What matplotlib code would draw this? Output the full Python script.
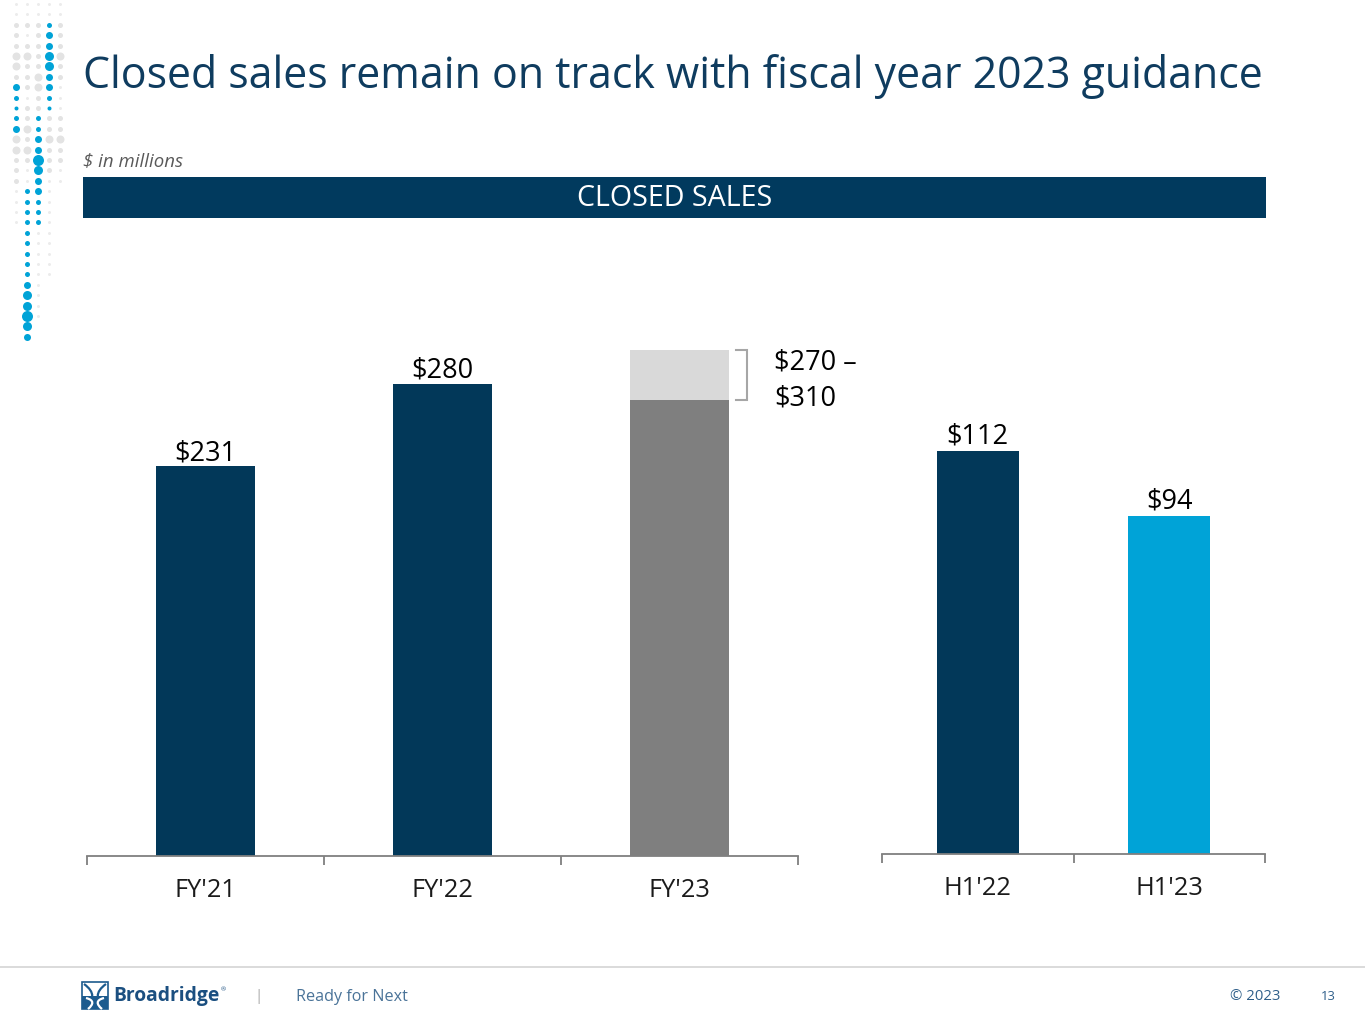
import matplotlib
matplotlib.use("Agg")
import matplotlib.pyplot as plt
from matplotlib.patches import Rectangle, PathPatch
from matplotlib.path import Path

# ---------------- data ----------------
fy_categories = ["FY'21", "FY'22", "FY'23"]
fy_values = [231, 280, 270]
fy_range_extra = [0, 0, 30]          # light-gray guidance band on FY'23
fy_value_labels = ["$231", "$280", ""]
guidance_text = ["$270 \u2013", "$310"]
guidance_low = 270
guidance_top = 300
h1_categories = ["H1'22", "H1'23"]
h1_values = [112, 94]
h1_value_labels = ["$112", "$94"]

# ---------------- style ----------------
NAVY = "#023859"
BLUE = "#00A3D7"
DGRAY = "#7F7F7F"
LGRAY = "#D9D9D9"
TITLE_C = "#0F3C5F"
FONT = "Open Sans"
plt.rcParams["font.family"] = [FONT, "DejaVu Sans"]

W, H = 1365, 1024
fig = plt.figure(figsize=(W / 100, H / 100), dpi=100)
fig.patch.set_facecolor("white")

bg = fig.add_axes([0, 0, 1, 1], zorder=-1)
bg.set_xlim(0, W)
bg.set_ylim(H, 0)
bg.axis("off")


def px_axes(l, t, r, b):
    return fig.add_axes([l / W, 1 - b / H, (r - l) / W, (b - t) / H])


def fit(t, width):
    fig.canvas.draw()
    w = t.get_window_extent().width
    t.set_fontsize(t.get_fontsize() * width / w)


# ---------------- decorative dots ----------------
dot_cols = [
    "..:::oo:BbtbBoo:::....",
    "..:.:o:::.::o:o:..bbbbbbbbbBXXZXB",
    "..:::::oo::bbBBZXBBbbb.........",
    "..bBBXXBBbt::o:::..........",
    "..:::o::...::o::..",
]
dot_x = [16, 27, 38, 49, 60]
dsize = {".": 3, ":": 5, "o": 8, "t": 4, "b": 5, "B": 7, "X": 9, "Z": 11}
for cx, col in zip(dot_x, dot_cols):
    for r, ch in enumerate(col):
        if ch == " ":
            continue
        y = 4 + 10.4 * r
        c = BLUE if ch in "tbBXZ" else ("#ECECEC" if ch == "." else "#E3E3E3")
        bg.scatter([cx], [y], s=(dsize[ch] * 0.72) ** 2, color=c, lw=0)

# ---------------- title / header ----------------
t = bg.text(83, 88, "Closed sales remain on track with fiscal year 2023 guidance",
            color=TITLE_C, fontsize=30, ha="left", va="baseline")
fit(t, 1180)
t = bg.text(83, 161, "$ in millions", color="#595959", fontsize=12,
            style="italic", ha="left", va="center")
fit(t, 100)
bg.add_patch(Rectangle((83, 177), 1183, 41, color="#013A5E", lw=0))
t = bg.text(675, 199, "CLOSED SALES", color="white", fontsize=18,
            ha="center", va="center")
fit(t, 196)

VAL_FS = 19.5
TICK_FS = 18.3

# ---------------- left chart ----------------
ax = px_axes(87, 316, 798, 856)
x = list(range(len(fy_categories)))
colors = [NAVY, NAVY, DGRAY]
ax.bar(x, fy_values, width=0.42, color=colors, lw=0, zorder=2)
ax.bar(x, fy_range_extra, bottom=fy_values, width=0.42, color=LGRAY, lw=0, zorder=2)
ax.set_xlim(-0.5, len(x) - 0.5)
ax.set_ylim(0, 320)
for xi, v, lab in zip(x, fy_values, fy_value_labels):
    if lab:
        ax.annotate(lab, (xi, v), xytext=(0, -1), textcoords="offset points",
                    ha="center", va="bottom", fontsize=VAL_FS, color="black")
# guidance bracket
bx0 = 2 + 0.21 + 0.03
bx1 = bx0 + 11 / 237
ax.plot([bx0, bx1, bx1, bx0], [guidance_top, guidance_top, guidance_low, guidance_low],
        color="#A6A6A6", lw=1.5, clip_on=False, solid_joinstyle="miter")
ax.text(2.40, 292.5, guidance_text[0], ha="left", va="center", fontsize=VAL_FS, clip_on=False)
ax.text(2.40, 271, guidance_text[1], ha="left", va="center", fontsize=VAL_FS, clip_on=False)

# ---------------- right chart ----------------
ax2 = px_axes(882, 350, 1265, 854)
x2 = list(range(len(h1_categories)))
ax2.bar(x2, h1_values, width=0.43, color=[NAVY, BLUE], lw=0, zorder=2)
ax2.set_xlim(-0.5, len(x2) - 0.5)
ax2.set_ylim(0, 140)
for xi, v, lab in zip(x2, h1_values, h1_value_labels):
    ax2.annotate(lab, (xi, v), xytext=(0, 0), textcoords="offset points",
                 ha="center", va="bottom", fontsize=VAL_FS, color="black")

for a, cats in ((ax, fy_categories), (ax2, h1_categories)):
    n = len(cats)
    for s in ("top", "right", "left"):
        a.spines[s].set_visible(False)
    a.spines["bottom"].set_color("#7F7F7F")
    a.spines["bottom"].set_linewidth(1.3)
    a.set_yticks([])
    a.set_xticks([i - 0.5 for i in range(n + 1)])
    a.set_xticklabels([])
    a.set_xticks(list(range(n)), minor=True)
    a.set_xticklabels(cats, minor=True)
    a.tick_params(axis="x", which="major", direction="out", length=6.5,
                  width=1.3, color="#7F7F7F")
    a.tick_params(axis="x", which="minor", length=0, pad=16, labelsize=TICK_FS,
                  labelcolor="#1A1A1A")
    a.patch.set_alpha(0)

# ---------------- footer ----------------
bg.plot([0, W], [967, 967], color="#D4D4D4", lw=1.2)
bg.add_patch(Rectangle((82, 982), 26, 27, facecolor="white", edgecolor="#1C5B8E", lw=1.2))
bg.add_patch(Rectangle((82, 996), 26, 13, facecolor="#1C5B8E", lw=0))
for verts in ([(84, 984), (95, 992), (95, 1000), (84, 1008)],
              [(106, 984), (95, 992), (95, 1000), (106, 1008)]):
    bg.add_patch(PathPatch(Path(verts, [Path.MOVETO, Path.CURVE4, Path.CURVE4, Path.CURVE4]),
                           facecolor="none", edgecolor="#1C5B8E", lw=1.6))
for verts in ([(86, 998), (94, 1000), (94, 1004), (88, 1009)],
              [(104, 998), (96, 1000), (96, 1004), (102, 1009)]):
    bg.add_patch(PathPatch(Path(verts, [Path.MOVETO, Path.CURVE4, Path.CURVE4, Path.CURVE4]),
                           facecolor="none", edgecolor="white", lw=1.6))
t = bg.text(113, 996, "Broadridge", color="#1B4F80", fontsize=14, fontweight="bold",
            ha="left", va="center")
fit(t, 107)
bg.text(221, 990, "\u00ae", color="#1B4F80", fontsize=4.5, ha="left", va="center")
bg.text(259, 997, "|", color="#A8A8A8", fontsize=11, ha="center", va="center")
t = bg.text(296, 997, "Ready for Next", color="#4A7398", fontsize=13,
            ha="left", va="center")
fit(t, 111)
t = bg.text(1230, 996, "\u00a9 2023", color="#2F5F8A", fontsize=10, ha="left", va="center")
fit(t, 50)
t = bg.text(1321, 996, "13", color="#2F5F8A", fontsize=10.5, ha="left", va="center")
fit(t, 15)

fig.savefig("out.png", dpi=100, facecolor="white")
